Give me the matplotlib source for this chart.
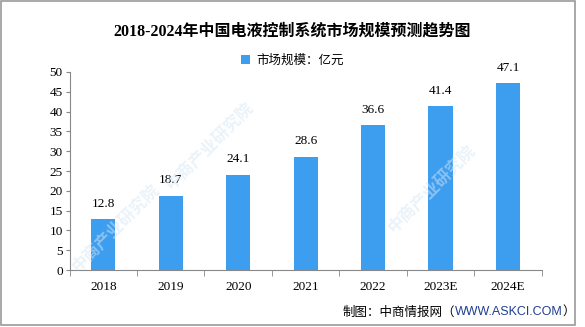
import numpy as np
import matplotlib.pyplot as plt
from matplotlib.patches import Rectangle

years = ['2018', '2019', '2020', '2021', '2022', '2023E', '2024E']
values = [12.8, 18.7, 24.1, 28.6, 36.6, 41.4, 47.1]

bar_color = '#3d9ef0'
cjk = ['Liberation Serif', 'Noto Sans CJK SC']

fig = plt.figure(figsize=(5.85, 3.27), dpi=100)
ax = fig.add_axes([0.119, 0.174, 0.807, 0.606])

x = np.arange(len(years))
ax.bar(x, values, width=0.36, color=bar_color, label='市场规模：亿元', zorder=3)

# value labels
for xi, v in zip(x, values):
    ax.text(xi, v + 2.4, f'{v}', ha='center', va='bottom', fontsize=9.5, family=cjk)

ax.set_xlim(-0.5, len(years) - 0.5)
ax.set_ylim(0, 50)
ax.set_yticks(np.arange(0, 51, 5))
ax.set_xticks(x)
ax.set_xticklabels(years, family=cjk, fontsize=9.5)
for lab in ax.get_yticklabels():
    lab.set_family(cjk)
    lab.set_fontsize(9.5)
ax.tick_params(axis='x', which='major', length=0, pad=8)
ax.set_xticks(np.arange(-0.5, len(years), 1), minor=True)
ax.tick_params(axis='x', which='minor', length=4, color='#888888')
ax.tick_params(axis='y', length=3, color='#888888', pad=2)

for side in ['top', 'right']:
    ax.spines[side].set_visible(False)
for side in ['left', 'bottom']:
    ax.spines[side].set_color('#888888')

# legend
ax.legend(loc='center', bbox_to_anchor=(0.5, 0.815), bbox_transform=fig.transFigure,
          frameon=False, handlelength=0.7, handleheight=0.7, handletextpad=0.5,
          prop={'family': cjk, 'size': 9})

# title
fig.text(0.5, 0.905, '2018-2024年中国电液控制系统市场规模预测趋势图', ha='center', va='center',
         fontsize=11.5, fontweight='bold', family=cjk)

# faint watermarks
for wx, wy in [(0.36, 0.55), (0.74, 0.42), (0.2, 0.3)]:
    fig.text(wx, wy, '中商产业研究院', rotation=45, ha='center', va='center', fontsize=12,
             color='#d6e7f5', alpha=0.5, family=cjk, fontweight='bold', zorder=0)

# footer
r = fig.canvas.get_renderer()
t1 = fig.text(0.585, 0.045, '制图：中商情报网（', ha='left', va='center', fontsize=9, family=cjk)
bb = t1.get_window_extent(r)
t2 = fig.text(bb.x1 / fig.bbox.width, 0.045, 'WWW.ASKCI.COM', ha='left', va='center', fontsize=9,
              family=['Liberation Sans'], color='#1f3f8f')
bb2 = t2.get_window_extent(r)
fig.text(bb2.x1 / fig.bbox.width, 0.045, '）', ha='left', va='center', fontsize=9, family=cjk)

# border
fig.patches.append(Rectangle((0.0017, 0.006), 0.981, 0.991, transform=fig.transFigure,
                             fill=False, edgecolor='#999999', linewidth=1.2))

fig.savefig('out.png', dpi=100)
